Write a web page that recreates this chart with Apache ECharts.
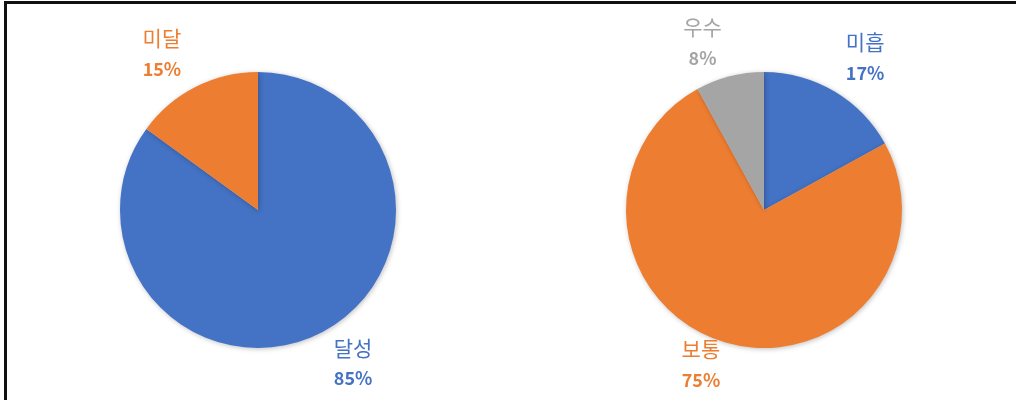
<!DOCTYPE html>
<html><head><meta charset="utf-8">
<script src="https://cdn.jsdelivr.net/npm/echarts@6/dist/echarts.min.js"></script>
<style>
html,body{margin:0;padding:0;background:#fff;}
#frame{position:absolute;left:4px;top:1px;width:1012px;height:399px;border-left:3px solid #111;border-top:3px solid #111;box-sizing:border-box;}
#chart{position:absolute;left:0;top:0;width:1016px;height:400px;}
</style></head>
<body>
<div id="frame"></div>
<div id="chart"></div>
<script>
// Left pie
const leftNames = ['달성', '미달'];
const leftValues = [85, 15];
const leftColors = ['#4472C4', '#ED7D31'];
// Right pie
const rightNames = ['미흡', '보통', '우수'];
const rightValues = [17, 75, 8];
const rightColors = ['#4472C4', '#ED7D31', '#A5A5A5'];

const leftOffsets = [[12, -10], [-13, 7]];
const rightOffsets = [[8, 5], [-12, -21], [-16, 10]];

function pieData(names, values, colors) {
  return names.map((n, i) => ({ name: n, value: values[i], itemStyle: { color: colors[i] } }));
}
function labelData(names, values, colors, offsets) {
  return names.map((n, i) => ({
    name: n, value: values[i],
    itemStyle: { color: 'rgba(0,0,0,0)' },
    label: {
      offset: offsets[i],
      formatter: '{n|{b}}\n{p|{d}%}',
      rich: {
        n: { color: colors[i], fontSize: 21, lineHeight: 31, fontFamily: 'Noto Sans CJK KR', fontWeight: 'normal' },
        p: { color: colors[i], fontSize: 18, lineHeight: 31, fontFamily: 'Noto Sans CJK KR', fontWeight: 'bold' }
      }
    }
  }));
}
const basePie = {
  type: 'pie', radius: 138, startAngle: 90, clockwise: true, silent: true,
  label: { show: false }, labelLine: { show: false },
  itemStyle: { borderWidth: 0, shadowBlur: 5, shadowColor: 'rgba(0,0,0,0.25)', shadowOffsetX: 1, shadowOffsetY: 1 },
  animation: false
};
const labelPie = {
  type: 'pie', radius: [170, 190], startAngle: 90, clockwise: true, silent: true,
  label: { show: true, position: 'inside' }, labelLine: { show: false },
  itemStyle: { borderWidth: 0 }, emphasis: { disabled: true }, animation: false, z: 5
};
const chart = echarts.init(document.getElementById('chart'), null, { renderer: 'canvas' });
chart.setOption({
  backgroundColor: 'transparent',
  series: [
    Object.assign({}, basePie, { center: [258, 210], data: pieData(leftNames, leftValues, leftColors) }),
    Object.assign({}, basePie, { center: [764, 210], data: pieData(rightNames, rightValues, rightColors) }),
    Object.assign({}, labelPie, { center: [258, 210], data: labelData(leftNames, leftValues, leftColors, leftOffsets) }),
    Object.assign({}, labelPie, { center: [764, 210], data: labelData(rightNames, rightValues, rightColors, rightOffsets) })
  ]
});
</script>
</body></html>
